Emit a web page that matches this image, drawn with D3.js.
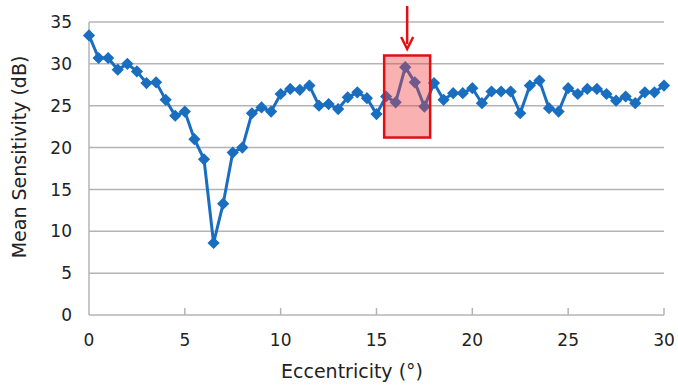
<!DOCTYPE html>
<html>
<head>
<meta charset="utf-8">
<script src="https://cdn.jsdelivr.net/npm/d3@7"></script>
<style>
  body { margin: 0; background: #fff; }
  text { font-family: "DejaVu Sans", sans-serif; fill: #222; }
</style>
</head>
<body>
<script>
// eccentricity (deg) and mean sensitivity (dB)
var ecc = d3.range(0, 30.01, 0.5);
var sens = [33.4, 30.7, 30.7, 29.3, 30.0, 29.1, 27.7, 27.8, 25.7, 23.8,
  24.3, 21.0, 18.6, 8.6, 13.3, 19.4, 20.0, 24.1, 24.8, 24.3,
  26.4, 27.0, 26.9, 27.4, 25.0, 25.2, 24.6, 26.0, 26.6, 25.9,
  24.0, 26.1, 25.4, 29.6, 27.8, 24.9, 27.7, 25.7, 26.5, 26.5,
  27.1, 25.3, 26.7, 26.7, 26.7, 24.1, 27.4, 28.0, 24.7, 24.3,
  27.1, 26.4, 27.0, 27.0, 26.4, 25.6, 26.1, 25.3, 26.6, 26.6, 27.4];
var xTicks = [0, 5, 10, 15, 20, 25, 30];
var yTicks = [0, 5, 10, 15, 20, 25, 30, 35];
// highlighted region: x0, x1, y0, y1 (data units)
var box = [15.4, 17.8, 21.2, 31.0];
var arrowX = 16.6;

var W = 678, H = 385;
var m = {left: 89, right: 14, top: 22, bottom: 70};

var svg = d3.select("body").append("svg")
    .attr("width", W).attr("height", H);

var x = d3.scaleLinear().domain([0, 30]).range([m.left, W - m.right]);
var y = d3.scaleLinear().domain([0, 35]).range([H - m.bottom, m.top]);

// grid
svg.append("g").selectAll("line")
    .data(yTicks.filter(function(d){ return d > 0; }))
  .enter().append("line")
    .attr("x1", x(0)).attr("x2", x(30))
    .attr("y1", function(d){ return y(d); })
    .attr("y2", function(d){ return y(d); })
    .attr("stroke", "#b4b4b4").attr("stroke-width", 1.5);

// axes lines
svg.append("line")
    .attr("x1", x(0)).attr("x2", x(0)).attr("y1", y(35)).attr("y2", y(0))
    .attr("stroke", "#b4b4b4").attr("stroke-width", 1.5);
svg.append("line")
    .attr("x1", x(0)).attr("x2", x(30)).attr("y1", y(0)).attr("y2", y(0))
    .attr("stroke", "#b4b4b4").attr("stroke-width", 1.5);

svg.append("g").selectAll("line")
    .data(xTicks.slice(1))
  .enter().append("line")
    .attr("x1", function(d){ return x(d); })
    .attr("x2", function(d){ return x(d); })
    .attr("y1", y(0)).attr("y2", y(0) - 7)
    .attr("stroke", "#b4b4b4").attr("stroke-width", 1.5);

// tick labels
svg.append("g").selectAll("text")
    .data(yTicks)
  .enter().append("text")
    .attr("x", 72).attr("y", function(d){ return y(d); })
    .attr("dy", "0.36em")
    .attr("text-anchor", "end")
    .style("font-size", "17px")
    .text(function(d){ return d; });

svg.append("g").selectAll("text")
    .data(xTicks)
  .enter().append("text")
    .attr("x", function(d){ return x(d); })
    .attr("y", 346)
    .attr("text-anchor", "middle")
    .style("font-size", "17px")
    .text(function(d){ return d; });

// axis titles
svg.append("text")
    .attr("x", 352).attr("y", 378)
    .attr("text-anchor", "middle")
    .style("font-size", "19px")
    .text("Eccentricity (°)");

svg.append("text")
    .attr("transform", "translate(26," + 157 + ") rotate(-90)")
    .attr("text-anchor", "middle")
    .style("font-size", "19px")
    .text("Mean Sensitivity (dB)");

// series
var pts = ecc.map(function(e, i){ return [e, sens[i]]; });
var line = d3.line()
    .x(function(d){ return x(d[0]); })
    .y(function(d){ return y(d[1]); });

svg.append("path")
    .datum(pts)
    .attr("d", line)
    .attr("fill", "none")
    .attr("stroke", "#1a6ec0")
    .attr("stroke-width", 3);

svg.append("g").selectAll("path")
    .data(pts)
  .enter().append("path")
    .attr("d", d3.symbol().type(d3.symbolDiamond2).size(95))
    .attr("transform", function(d){ return "translate(" + x(d[0]) + "," + y(d[1]) + ")"; })
    .attr("fill", "#1a6ec0");

// highlight box over the line
svg.append("rect")
    .attr("x", x(box[0])).attr("y", y(box[3]))
    .attr("width", x(box[1]) - x(box[0]))
    .attr("height", y(box[2]) - y(box[3]))
    .attr("fill", "rgba(240, 60, 60, 0.4)")
    .attr("stroke", "#e01010")
    .attr("stroke-width", 2.5);

// arrow
svg.append("line")
    .attr("x1", x(arrowX)).attr("x2", x(arrowX))
    .attr("y1", 6).attr("y2", 44)
    .attr("stroke", "#e01010").attr("stroke-width", 2.5);
svg.append("path")
    .attr("d", d3.line()([[x(arrowX) - 6, 37], [x(arrowX), 49], [x(arrowX) + 6, 37]]))
    .attr("fill", "none")
    .attr("stroke", "#e01010").attr("stroke-width", 2.5);
</script>
</body>
</html>
